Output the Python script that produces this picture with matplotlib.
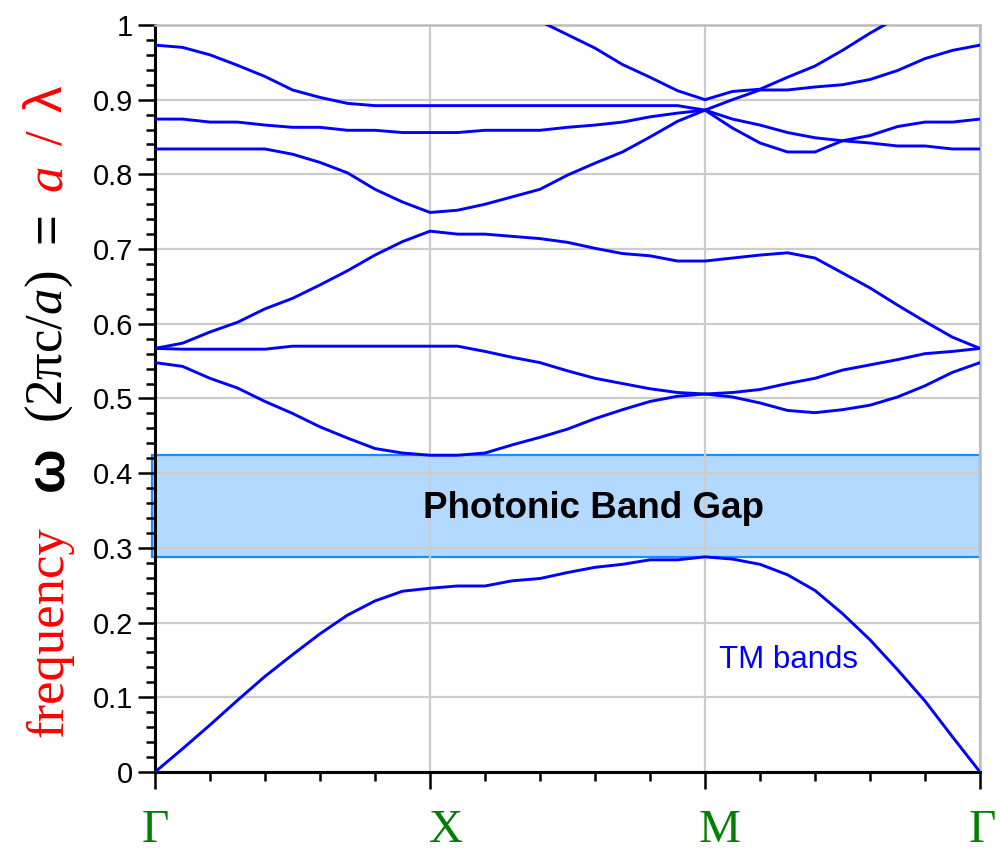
import matplotlib
matplotlib.use("Agg")
import matplotlib.pyplot as plt
from matplotlib.patches import Rectangle
from matplotlib.ticker import MultipleLocator, FuncFormatter, NullFormatter
from matplotlib.transforms import ScaledTranslation

plt.rcParams['mathtext.fontset'] = 'custom'
plt.rcParams['mathtext.rm'] = 'Liberation Serif'
plt.rcParams['mathtext.it'] = 'Liberation Serif:italic'

# k path: Gamma -> X -> M -> Gamma, sampled every 0.1
k = [0.0, 0.1, 0.2, 0.3, 0.4, 0.5, 0.6, 0.7, 0.8, 0.9,
     1.0, 1.1, 1.2, 1.3, 1.4, 1.5, 1.6, 1.7, 1.8, 1.9,
     2.0, 2.1, 2.2, 2.3, 2.4, 2.5, 2.6, 2.7, 2.8, 2.9, 3.0]
k_points = [0, 1, 2, 3]
k_labels = ["Γ", "X", "M", "Γ"]

nan = float("nan")

# TM band frequencies (2*pi*c/a)
band1 = [0.000, 0.031, 0.063, 0.096, 0.128, 0.157, 0.185, 0.210, 0.229, 0.242, 0.246,
         0.249, 0.249, 0.256, 0.259, 0.267, 0.274, 0.278, 0.284, 0.284, 0.288,
         0.285, 0.278, 0.264, 0.243, 0.212, 0.177, 0.137, 0.095, 0.047, 0.000]
band2 = [0.548, 0.543, 0.527, 0.514, 0.496, 0.480, 0.462, 0.447, 0.433, 0.427, 0.424,
         0.424, 0.427, 0.438, 0.448, 0.459, 0.473, 0.485, 0.496, 0.503, 0.506,
         0.502, 0.494, 0.484, 0.481, 0.485, 0.491, 0.502, 0.517, 0.535, 0.548]
band3 = [0.567, 0.566, 0.566, 0.566, 0.566, 0.570, 0.570, 0.570, 0.570, 0.570, 0.570,
         0.570, 0.563, 0.555, 0.548, 0.537, 0.527, 0.520, 0.513, 0.508, 0.506,
         0.508, 0.512, 0.520, 0.527, 0.538, 0.545, 0.552, 0.560, 0.563, 0.567]
band4 = [0.567, 0.574, 0.589, 0.602, 0.620, 0.634, 0.652, 0.671, 0.692, 0.710, 0.724,
         0.720, 0.720, 0.717, 0.714, 0.709, 0.701, 0.694, 0.691, 0.684, 0.684,
         0.688, 0.692, 0.695, 0.688, 0.668, 0.648, 0.625, 0.603, 0.582, 0.567]
band5 = [0.834, 0.834, 0.834, 0.834, 0.834, 0.827, 0.816, 0.802, 0.780, 0.763, 0.749,
         0.752, 0.760, 0.770, 0.780, 0.799, 0.815, 0.830, 0.850, 0.871, 0.886,
         0.862, 0.842, 0.830, 0.830, 0.845, 0.842, 0.838, 0.838, 0.834, 0.834]
band6 = [0.874, 0.874, 0.870, 0.870, 0.866, 0.863, 0.863, 0.859, 0.859, 0.856, 0.856,
         0.856, 0.859, 0.859, 0.859, 0.863, 0.866, 0.870, 0.877, 0.882, 0.886,
         0.874, 0.866, 0.856, 0.849, 0.845, 0.852, 0.864, 0.870, 0.870, 0.874]
band7 = [0.973, 0.970, 0.960, 0.946, 0.931, 0.913, 0.903, 0.895, 0.892, 0.892, 0.892,
         0.892, 0.892, 0.892, 0.892, 0.892, 0.892, 0.892, 0.892, 0.892, 0.886,
         0.900, 0.913, 0.913, 0.917, 0.920, 0.927, 0.939, 0.955, 0.966, 0.973]
band8 = [nan, nan, nan, nan, nan, nan, nan, nan, nan, nan, nan,
         nan, nan, nan, 1.005, 0.987, 0.969, 0.947, 0.930, 0.912, 0.900,
         0.911, 0.914, 0.930, 0.945, 0.966, 0.989, 1.010, nan, nan, nan]
bands = [band1, band2, band3, band4, band5, band6, band7, band8]

gap_bottom = 0.288
gap_top = 0.424

fig = plt.figure(figsize=(10, 8.52), dpi=100)
ax = fig.add_axes([0.155, 0.0939, 0.825, 0.8768])

# band gap box
ax.add_patch(Rectangle((-0.012, gap_bottom), 3.012, gap_top - gap_bottom,
                       facecolor="#b3d9ff", edgecolor="#1a8cff", lw=1.6,
                       zorder=0.2, clip_on=False))

for b in bands:
    ax.plot(k, b, color="#0000ff", lw=2.1, zorder=3)

ax.set_xlim(0, 3)
ax.set_ylim(0, 1)

ax.set_axisbelow(True)
ax.grid(True, which="major", color="#cccccc", lw=1.6)

ax.set_xticks(k_points)
ax.xaxis.set_major_formatter(NullFormatter())
ax.xaxis.set_minor_locator(MultipleLocator(0.2))
ax.yaxis.set_major_locator(MultipleLocator(0.1))
ax.yaxis.set_minor_locator(MultipleLocator(0.02))
ax.yaxis.set_major_formatter(FuncFormatter(lambda v, p: "{:g}".format(round(v, 2))))

ax.tick_params(which="major", direction="out", length=12, width=1.8, color="black")
ax.tick_params(which="minor", direction="out", length=6.5, width=1.8, color="black")
ax.tick_params(axis="y", labelsize=21, pad=4)
for lab in ax.get_yticklabels():
    lab.set_fontfamily("Liberation Sans")

# symmetry point labels, nudged right like the original
label_shift = [0, 16, 15, 2]
for kp, name, dx in zip(k_points, k_labels, label_shift):
    ax.text(kp, -0.094, name, ha="center", va="baseline", color="green",
            fontsize=34, family="Liberation Serif", clip_on=False,
            transform=ax.get_xaxis_transform() + ScaledTranslation(dx / 100, 0, fig.dpi_scale_trans))

for side in ["left", "bottom"]:
    ax.spines[side].set_color("black")
    ax.spines[side].set_linewidth(2.2)
for side in ["top", "right"]:
    ax.spines[side].set_color("#bbbbbb")
    ax.spines[side].set_linewidth(1.8)

ax.text(1.594, 0.3396, "Photonic Band Gap", ha="center", va="baseline",
        fontsize=26.5, fontweight="bold", family="Liberation Sans", zorder=4)
ax.text(2.052, 0.1396, "TM bands", ha="left", va="baseline", color="#0000ff",
        fontsize=22.5, family="Liberation Sans", zorder=4)

# y label built from pieces (mixed colours and fonts)
base_x = 0.062
label_parts = [
    ("frequency", 631.5, "red", "Liberation Serif", "normal", "normal"),
    ("ω", 468.6, "black", "Liberation Sans", "bold", "normal"),
    (r"$\mathrm{(2\pi c/}a\mathrm{)}$", 347, "black", "Liberation Serif", "normal", "normal"),
    ("=", 228, "black", "Liberation Sans", "normal", "normal"),
    ("a", 178, "red", "Liberation Serif", "normal", "italic"),
    ("/", 138, "red", "Liberation Serif", "normal", "normal"),
    ("λ", 99, "red", "Liberation Sans", "normal", "normal"),
]
for txt, yc, col, fam, wt, st in label_parts:
    fig.text(base_x, 1 - yc / 852, txt, rotation=90, rotation_mode="anchor",
             ha="center", va="baseline", color=col, family=fam,
             fontweight=wt, fontstyle=st, fontsize=38)

fig.savefig("out.png", dpi=100)
